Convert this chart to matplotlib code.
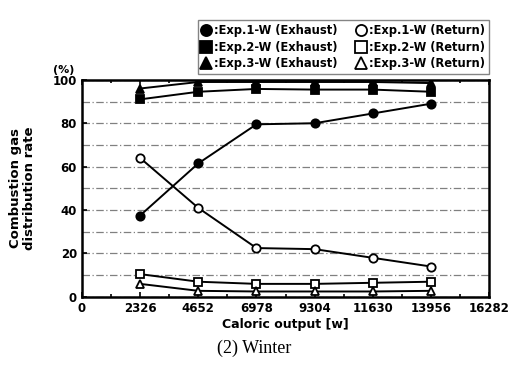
import numpy as np
import matplotlib
matplotlib.use("Agg")
import matplotlib.pyplot as plt

# caloric output [W]
x = [2326, 4652, 6978, 9304, 11630, 13956]
xticks = [0, 2326, 4652, 6978, 9304, 11630, 13956, 16282]

exp1_exhaust = [37.5, 61.5, 79.5, 80, 84.5, 89]
exp1_return = [64, 41, 22.5, 22, 18, 14]
exp2_exhaust = [91, 94.5, 95.8, 95.5, 95.5, 94.5]
exp2_return = [10.5, 7, 6, 6, 6.5, 7]
exp3_exhaust = [96, 99, 99, 99, 99, 98.5]
exp3_return = [6, 2.8, 2.5, 2.5, 2.5, 2.8]

series = [
    (exp1_exhaust, "o", "black", ":Exp.1-W (Exhaust)"),
    (exp2_exhaust, "s", "black", ":Exp.2-W (Exhaust)"),
    (exp3_exhaust, "^", "black", ":Exp.3-W (Exhaust)"),
    (exp1_return, "o", "white", ":Exp.1-W (Return)"),
    (exp2_return, "s", "white", ":Exp.2-W (Return)"),
    (exp3_return, "^", "white", ":Exp.3-W (Return)"),
]

fig = plt.figure(figsize=(5.09, 3.73), dpi=100)
ax = fig.add_axes([0.161, 0.204, 0.800, 0.582])

handles = []
for vals, mk, face, lab in series:
    ax.plot(x, vals, color="black", lw=1.4, marker=mk, ms=6,
            mfc=face, mec="black", mew=1.3, zorder=3)
    h, = ax.plot([], [], ls="none", marker=mk, ms=8, mfc=face,
                 mec="black", mew=1.3, label=lab)
    handles.append(h)

ax.set_xlim(0, 16282)
ax.set_ylim(0, 100)
ax.set_xticks(xticks)
ax.set_xticks(np.arange(0, 16283, 1163), minor=True)
ax.set_yticks(range(0, 101, 20))
ax.set_yticks(range(0, 101, 10), minor=True)
ax.tick_params(axis="both", which="both", direction="in", top=True,
               labelsize=8.5, width=1.2)
ax.tick_params(axis="y", which="minor", length=0)
for lbl in ax.get_xticklabels() + ax.get_yticklabels():
    lbl.set_fontweight("bold")
ax.yaxis.grid(True, which="both", ls=(0, (6, 2, 1, 2)), lw=0.9, color="0.5")
for sp in ax.spines.values():
    sp.set_linewidth(1.8)

ax.set_xlabel("Caloric output [w]", fontsize=9, fontweight="bold", labelpad=2)
ax.set_ylabel("Combustion gas\ndistribution rate", fontsize=9.5,
              fontweight="bold", labelpad=12, linespacing=1.1)
fig.text(0.105, 0.805, "(%)", fontsize=8, fontweight="bold")

leg = fig.legend(handles=handles, ncol=2, loc="upper right",
                 bbox_to_anchor=(0.972, 0.962), frameon=True,
                 fancybox=False, edgecolor="0.4", handlelength=0.8,
                 handletextpad=0.3, columnspacing=1.6, labelspacing=0.32,
                 borderpad=0.35, prop={"weight": "bold", "size": 8.3})
leg.get_frame().set_linewidth(1.0)

fig.text(0.5, 0.055, "(2) Winter", ha="center", fontsize=13,
         family="Liberation Serif")

fig.savefig("out.png", dpi=100)
